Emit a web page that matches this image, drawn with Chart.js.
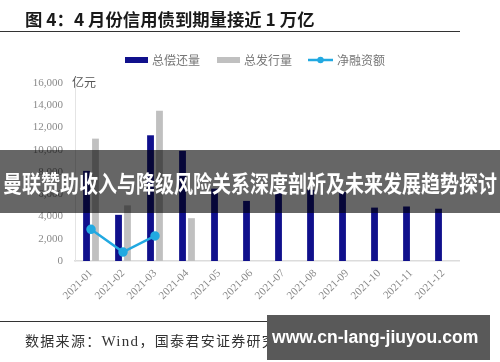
<!DOCTYPE html>
<html>
<head>
<meta charset="utf-8">
<script src="https://cdn.jsdelivr.net/npm/chart.js@4.4.0/dist/chart.umd.min.js"></script>
<style>
  html, body { margin: 0; padding: 0; background: #fff; }
  #wrap { position: relative; width: 500px; height: 362px; overflow: hidden; }
  #c { position: absolute; left: 0; top: 0; }
  .title { position: absolute; left: 25px; top: 10px; font: bold 17px/18px "Noto Sans CJK SC"; color: #1a1a1a; white-space: nowrap; transform-origin: left center; }
  .rule { position: absolute; left: 0; width: 460px; height: 1px; background: #333; }
  .unit { position: absolute; left: 72px; top: 75px; font: 12px/14px "Noto Sans CJK SC"; color: #555; }
  .src { position: absolute; left: 25px; top: 332px; font: 14px/16px "Noto Sans CJK SC"; letter-spacing: 1.3px; color: #333; white-space: nowrap; }
  .src .lat { font-family: "Liberation Serif"; font-size: 15px; }
  .banner { position: absolute; left: 0; top: 150px; width: 500px; height: 63px; background: rgba(0,0,0,0.6); }
  .banner span { position: absolute; left: 3px; top: 21px; font: bold 23px/23px "Noto Sans CJK SC"; color: #fff; white-space: nowrap; transform-origin: left center; }
  .wm { position: absolute; left: 267px; top: 315px; width: 223px; height: 45px; background: #595959; }
  .wm span { position: absolute; left: 5px; top: 12px; font: bold 18px/20px "Liberation Sans"; color: #fff; white-space: nowrap; transform-origin: left center; }
</style>
</head>
<body>
<div id="wrap">
  <canvas id="c" width="500" height="362"></canvas>
  <div class="title" id="title">图 4：4 月份信用债到期量接近 1 万亿</div>
  <div class="rule" style="top:31px"></div>
  <div class="unit">亿元</div>
  <div class="rule" style="top:321px"></div>
  <div class="src">数据来源：<span class="lat">Wind</span>，国泰君安证券研究</div>
  <div class="banner"><span id="bannerText">曼联赞助收入与降级风险关系深度剖析及未来发展趋势探讨</span></div>
  <div class="wm"><span id="wmText">www.cn-lang-jiuyou.com</span></div>
</div>
<script>
// 数据
const months = ['2021-01', '2021-02', '2021-03', '2021-04', '2021-05', '2021-06',
                '2021-07', '2021-08', '2021-09', '2021-10', '2021-11', '2021-12'];
const repayment = [8100, 4150, 11300, 9900, 6500, 5400, 6200, 6400, 6200, 4800, 4900, 4700];
const issuance = [11000, 5000, 13500, 3850, null, null, null, null, null, null, null, null];
const netFinancing = [2850, 800, 2250, null, null, null, null, null, null, null, null, null];
const yTicks = [0, 2000, 4000, 6000, 8000, 10000, 12000, 14000, 16000];

const legendItems = [
  { label: '总偿还量', color: '#10108c', kind: 'box', x: 125 },
  { label: '总发行量', color: '#c0c0c0', kind: 'box', x: 217 },
  { label: '净融资额', color: '#22a9e1', kind: 'line', x: 308 },
];

// 文字宽度对齐
function fitWidth(id, w) {
  const el = document.getElementById(id);
  el.style.transform = 'scaleX(' + (w / el.scrollWidth) + ')';
}
fitWidth('title', 290);
fitWidth('bannerText', 494);
fitWidth('wmText', 206);

// 自定义图例
const legendPlugin = {
  id: 'customLegend',
  afterDraw(chart) {
    const ctx = chart.ctx;
    const y = 60;
    ctx.save();
    ctx.font = '12px "Noto Sans CJK SC"';
    ctx.textBaseline = 'middle';
    legendItems.forEach(it => {
      if (it.kind === 'box') {
        ctx.fillStyle = it.color;
        ctx.fillRect(it.x, y - 3, 23, 6);
        ctx.fillStyle = '#777';
        ctx.fillText(it.label, it.x + 27, y);
      } else {
        ctx.strokeStyle = it.color;
        ctx.lineWidth = 2.5;
        ctx.beginPath();
        ctx.moveTo(it.x, y);
        ctx.lineTo(it.x + 25, y);
        ctx.stroke();
        ctx.fillStyle = it.color;
        ctx.beginPath();
        ctx.arc(it.x + 12.5, y, 3.2, 0, Math.PI * 2);
        ctx.fill();
        ctx.fillStyle = '#777';
        ctx.fillText(it.label, it.x + 29, y);
      }
    });
    ctx.restore();
  }
};

new Chart(document.getElementById('c'), {
  data: {
    labels: months,
    datasets: [
      {
        type: 'line',
        label: '净融资额',
        data: netFinancing,
        borderColor: '#22a9e1',
        backgroundColor: '#22a9e1',
        borderWidth: 2.5,
        pointRadius: 3.5,
        pointHoverRadius: 3.5,
        spanGaps: false,
        order: 0,
      },
      {
        type: 'bar',
        label: '总偿还量',
        data: repayment,
        backgroundColor: '#10108c',
        borderWidth: 0,
        categoryPercentage: 0.56,
        barPercentage: 0.76,
        order: 1,
      },
      {
        type: 'bar',
        label: '总发行量',
        data: issuance,
        backgroundColor: '#c0c0c0',
        borderWidth: 0,
        categoryPercentage: 0.56,
        barPercentage: 0.76,
        order: 1,
      },
    ]
  },
  options: {
    responsive: false,
    animation: false,
    events: [],
    layout: { padding: { top: 83, left: 0, right: 41, bottom: 0 } },
    plugins: { legend: { display: false }, tooltip: { enabled: false } },
    scales: {
      x: {
        grid: { display: false, drawTicks: false },
        border: { display: true, color: '#dcdcdc', width: 1.5 },
        ticks: {
          font: { family: 'Liberation Serif', size: 11 },
          color: '#8a8a8a',
          maxRotation: 45,
          minRotation: 45,
          padding: 6,
        },
        afterFit: scale => { scale.height = 101; },
      },
      y: {
        min: 0,
        max: 16000,
        afterBuildTicks: scale => { scale.ticks = yTicks.map(v => ({ value: v })); },
        grid: { display: false, drawTicks: false },
        border: { display: true, color: '#e4e4e4', width: 1 },
        ticks: {
          font: { family: 'Liberation Serif', size: 11 },
          color: '#8a8a8a',
          padding: 12,
          callback: v => v.toLocaleString('en-US'),
        },
        afterFit: scale => { scale.width = 75; },
      },
    },
  },
  plugins: [legendPlugin],
});
</script>
</body>
</html>
